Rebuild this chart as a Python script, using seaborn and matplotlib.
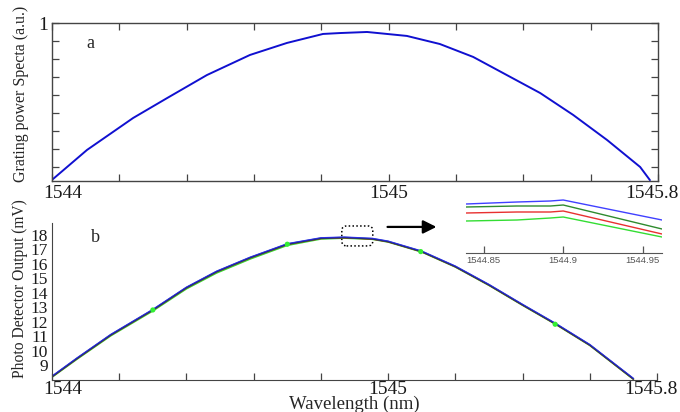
import matplotlib
matplotlib.use('Agg')
import matplotlib.pyplot as plt
import matplotlib.transforms as mtrans
from matplotlib.patches import FancyBboxPatch
import seaborn as sns

# panel a: grating power spectrum
wl_a = [1544.003, 1544.104, 1544.241, 1544.342, 1544.460, 1544.588, 1544.698,
        1544.805, 1544.855, 1544.936, 1545.054, 1545.152, 1545.251, 1545.351, 1545.450,
        1545.548, 1545.649, 1545.747, 1545.776]
power_a = [0.131, 0.293, 0.471, 0.582, 0.710, 0.822, 0.889, 0.939, 0.944, 0.950,
           0.928, 0.883, 0.811, 0.710, 0.610, 0.488, 0.348, 0.198, 0.125]

# panel b: photo detector output, four traces
wl_b = [1544.00, 1544.075, 1544.175, 1544.30, 1544.40, 1544.49, 1544.59, 1544.70, 1544.80,
        1544.87, 1544.953, 1545.00, 1545.10, 1545.20, 1545.30, 1545.40, 1545.50, 1545.60, 1545.73]
pd_blue = [8.22, 9.49, 11.11, 12.84, 14.38, 15.49, 16.46, 17.39, 17.80, 17.85, 17.76,
           17.57, 16.88, 15.84, 14.57, 13.19, 11.85, 10.41, 8.06]
pd_dgreen = [8.20, 9.47, 11.09, 12.82, 14.36, 15.47, 16.44, 17.37, 17.78, 17.83, 17.74,
             17.55, 16.86, 15.82, 14.55, 13.17, 11.83, 10.39, 8.04]
pd_red = [8.18, 9.45, 11.07, 12.80, 14.34, 15.45, 16.42, 17.35, 17.76, 17.81, 17.72,
          17.53, 16.84, 15.80, 14.53, 13.15, 11.81, 10.37, 8.02]
pd_lgreen = [8.15, 9.41, 11.02, 12.74, 14.27, 15.37, 16.34, 17.28, 17.72, 17.78, 17.70,
             17.51, 16.82, 15.78, 14.51, 13.13, 11.79, 10.35, 8.00]
dot_wl = [1544.30, 1544.70, 1545.097, 1545.497]
dot_pd = [12.81, 17.36, 16.85, 11.82]

# zoomed inset near the peak
wl_in = [1544.839, 1544.871, 1544.892, 1544.900, 1544.962]
in_blue = [17.849, 17.851, 17.852, 17.853, 17.833]
in_dgreen = [17.846, 17.847, 17.847, 17.848, 17.824]
in_red = [17.840, 17.841, 17.841, 17.842, 17.819]
in_lgreen = [17.832, 17.833, 17.835, 17.836, 17.816]

x_ticks = [1544.0, 1544.2, 1544.4, 1544.6, 1544.8, 1545.0, 1545.2, 1545.4, 1545.6, 1545.8]
x_labels = ['1544', '', '', '', '', '1545', '', '', '', '1545.8']

sns.set_style('ticks')
plt.rcParams['font.family'] = ['Liberation Serif', 'DejaVu Serif']
plt.rcParams['axes.edgecolor'] = '#444444'
plt.rcParams['xtick.color'] = '#444444'
plt.rcParams['ytick.color'] = '#444444'
plt.rcParams['xtick.labelcolor'] = '#1a1a1a'
plt.rcParams['ytick.labelcolor'] = '#1a1a1a'

W, H = 680, 412
fig = plt.figure(figsize=(6.8, 4.12), dpi=100)

def box(l, t, r, b):
    return [l / W, 1 - b / H, (r - l) / W, (b - t) / H]

def nudge_ends(ax):
    # first and last x labels sit a bit inward, as in the original
    ticks = ax.xaxis.get_major_ticks()
    for t, dx in [(ticks[0], 11), (ticks[-1], -6)]:
        lab = t.label1
        lab.set_transform(lab.get_transform() + mtrans.ScaledTranslation(dx / 100, 0, fig.dpi_scale_trans))

# ---- panel a
ax1 = fig.add_axes(box(52, 23, 658, 181))
sns.lineplot(x=wl_a, y=power_a, ax=ax1, color='#1010d0', linewidth=1.4)
ax1.set_xlim(1544.0, 1545.8)
ax1.set_ylim(0.12, 1.0)
ax1.set_xticks(x_ticks)
ax1.set_xticklabels(x_labels, fontsize=14)
ax1.set_yticks([0.2, 0.3, 0.4, 0.5, 0.6, 0.7, 0.8, 0.9, 1.0])
ax1.set_yticklabels([''] * 8 + ['1'], fontsize=14)
ax1.tick_params(direction='in', top=True, right=True, length=5, width=0.9, pad=3)
for s in ax1.spines.values():
    s.set_linewidth(1.0)
nudge_ends(ax1)
ax1.text(0.063, 0.87, 'a', transform=ax1.transAxes, fontsize=13, ha='center', va='center')

# ---- panel b
ax2 = fig.add_axes(box(52, 223, 657, 380))
for ys, c in [(pd_lgreen, '#30d830'), (pd_red, '#d82020'), (pd_dgreen, '#228b22'),
              (pd_blue, '#3030ff')]:
    sns.lineplot(x=wl_b, y=ys, ax=ax2, color=c, linewidth=1.1)
sns.lineplot(x=wl_b, y=pd_red, ax=ax2, color='#1a1a50', linewidth=0.8, alpha=0.6)
sns.scatterplot(x=dot_wl, y=dot_pd, ax=ax2, color='#33ee33', s=14, edgecolor='none', zorder=5)
ax2.set_xlim(1544.0, 1545.8)
ax2.set_ylim(7.96, 18.83)
ax2.set_xticks(x_ticks)
ax2.set_xticklabels(x_labels, fontsize=14)
ax2.set_yticks(list(range(9, 19)))
ax2.set_yticklabels([str(v) for v in range(9, 19)], fontsize=12.5)
ax2.tick_params(axis='x', direction='in', length=5, width=0.9, pad=1)
ax2.tick_params(axis='y', length=0, pad=3)
ax2.spines['top'].set_visible(False)
ax2.spines['right'].set_visible(False)
nudge_ends(ax2)
ax2.set_xlabel('Wavelength (nm)', fontsize=13.5, labelpad=-2)
ax2.text(0.071, 0.905, 'b', transform=ax2.transAxes, fontsize=13, ha='center', va='center')

# dotted box around the peak and arrow towards inset
rect = FancyBboxPatch((0.479, 0.854), 0.0512, 0.127, transform=ax2.transAxes,
                      boxstyle='round,pad=0,rounding_size=0.008', mutation_aspect=3.85,
                      fill=False, linestyle=(0, (1, 1.5)), linewidth=1.1, edgecolor='black',
                      clip_on=False)
ax2.add_patch(rect)
ax2.annotate('', xy=(0.640, 0.975), xytext=(0.550, 0.975), xycoords='axes fraction',
             arrowprops=dict(arrowstyle='-|>', color='black', lw=1.6, mutation_scale=20))

# ---- inset
ax3 = fig.add_axes(box(466, 197, 662, 253))
for ys, c in [(in_blue, '#4040ff'), (in_dgreen, '#2e8b2e'), (in_red, '#e83030'),
              (in_lgreen, '#33dd33')]:
    sns.lineplot(x=wl_in, y=ys, ax=ax3, color=c, linewidth=1.0)
ax3.set_xlim(1544.839, 1544.962)
ax3.set_ylim(17.80, 17.856)
ax3.set_xticks([1544.85, 1544.9, 1544.95])
ax3.set_xticklabels(['1544.85', '1544.9', '1544.95'], fontsize=6.8,
                    family=['Liberation Sans', 'DejaVu Sans'], color='#555555')
ax3.set_yticks([])
ax3.tick_params(axis='x', direction='in', length=5, width=0.9, pad=2, color='#555555')
for k in ['top', 'right', 'left']:
    ax3.spines[k].set_visible(False)
ax3.spines['bottom'].set_color('#555555')
ax3.patch.set_alpha(0)

fig.text(21 / W, 1 - 94 / H, 'Grating power Specta (a.u.)', rotation=90,
         ha='center', va='center', fontsize=11.5)
fig.text(20 / W, 1 - 289 / H, 'Photo Detector Output (mV)', rotation=90,
         ha='center', va='center', fontsize=11.2)

fig.savefig('out.png', dpi=100)
